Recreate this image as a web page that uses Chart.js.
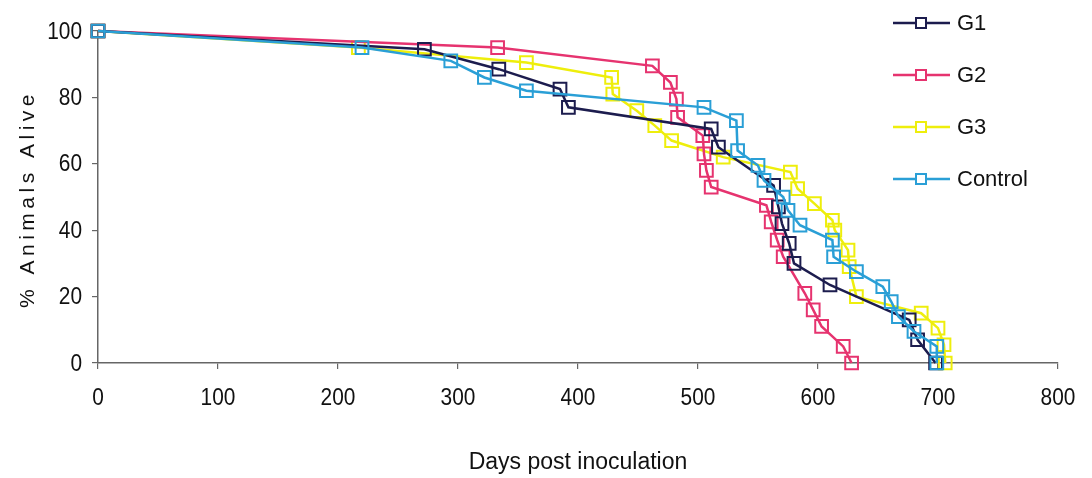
<!DOCTYPE html>
<html>
<head>
<meta charset="utf-8">
<title>Survival</title>
<script src="https://cdn.jsdelivr.net/npm/chart.js@4.4.1/dist/chart.umd.min.js"></script>
<style>
  html, body { margin: 0; padding: 0; background: #fff; }
  #wrap { width: 1092px; height: 478px; }
</style>
</head>
<body>
<div id="wrap"><canvas id="myChart" width="1092" height="478"></canvas></div>
<script>
// survival curves, days post inoculation vs % alive
const g1Days = [0, 272, 334, 385, 392, 511, 517, 563, 567, 570, 576, 580, 610, 676, 683, 698]
const g1Alive = [100, 94.5, 88.5, 82.5, 77, 70.5, 65, 53.5, 47, 42, 36, 30, 23.5, 13, 7, 0]

const g2Days = [0, 333, 462, 477, 482, 483, 504, 505, 507, 511, 557, 561, 566, 571, 589, 596, 603, 621, 628]
const g2Alive = [100, 95, 89.5, 84.5, 79.5, 74, 68.5, 63, 58, 53, 47.5, 42.5, 37, 32, 21, 16, 11, 5, 0]

const g3Days = [0, 217, 357, 428, 429, 449, 464, 478, 521, 577, 583, 597, 612, 614, 625, 626, 632, 686, 700, 705, 706]
const g3Alive = [100, 95, 90.5, 86, 81, 76, 71.5, 67, 62, 57.5, 52.5, 48, 43, 40, 34, 29, 20, 15, 10.5, 5.5, 0]

const ctlDays = [0, 220, 294, 322, 357, 505, 532, 533, 550, 555, 571, 575, 585, 612, 613, 632, 654, 661, 667, 680, 699, 699]
const ctlAlive = [100, 95, 91, 86, 82, 77, 73, 64, 59.5, 55, 50, 46, 41.5, 37, 32, 27.5, 23, 18.5, 14, 9.5, 5, 0]

const xTicks = [0, 100, 200, 300, 400, 500, 600, 700, 800]
const yTicks = [0, 20, 40, 60, 80, 100]

const xTitle = 'Days post inoculation'
const yTitle = '% Animals Alive'

const regular = "'Liberation Sans', Arial, sans-serif"
const squeeze = 0.87   // tick numbers are set a bit condensed

var toPoints = (days, alive) => days.map((d, i) => ({x: d, y: alive[i]}))

var series = (label, color, days, alive, order) => ({
    label: label,
    data: toPoints(days, alive),
    borderColor: color,
    backgroundColor: color,
    borderWidth: 2.5,
    pointStyle: 'rect',
    pointRadius: 9,
    pointHoverRadius: 9,
    pointBorderWidth: 2,
    pointBorderColor: color,
    pointBackgroundColor: 'rgba(0,0,0,0)',
    tension: 0,
    clip: false,
    order: order,
})

// tick numbers, drawn narrow
const narrowTicks = {
    id: 'narrowTicks',
    afterDraw(chart) {
        const {ctx, scales, chartArea} = chart
        ctx.save()
        ctx.font = '24px ' + regular
        ctx.fillStyle = '#111'
        ctx.textBaseline = 'middle'
        xTicks.forEach(v => {
            ctx.save()
            ctx.translate(scales.x.getPixelForValue(v), chartArea.bottom + 35)
            ctx.scale(squeeze, 1)
            ctx.textAlign = 'center'
            ctx.fillText(String(v), 0, 0)
            ctx.restore()
        })
        yTicks.forEach(v => {
            ctx.save()
            ctx.translate(chartArea.left - 16, scales.y.getPixelForValue(v) + 1)
            ctx.scale(squeeze, 1)
            ctx.textAlign = 'right'
            ctx.fillText(String(v), 0, 0)
            ctx.restore()
        })
        ctx.restore()
    }
}

// rotated y title, letter-spaced
const sideTitle = {
    id: 'sideTitle',
    afterDraw(chart) {
        const {ctx, chartArea} = chart
        ctx.save()
        ctx.translate(28, (chartArea.top + chartArea.bottom) / 2 + 2)
        ctx.rotate(-Math.PI / 2)
        ctx.font = '21px ' + regular
        ctx.letterSpacing = '4.5px'
        ctx.textAlign = 'center'
        ctx.textBaseline = 'middle'
        ctx.fillStyle = '#111'
        ctx.fillText(yTitle, 0, 0)
        ctx.restore()
    }
}

// legend in the top right corner
const sideLegend = {
    id: 'sideLegend',
    afterDraw(chart) {
        const ctx = chart.ctx
        chart.data.datasets.forEach((ds, i) => {
            const y = 23 + i * 52
            ctx.save()
            ctx.strokeStyle = ds.borderColor
            ctx.lineWidth = 2.5
            ctx.beginPath()
            ctx.moveTo(893, y)
            ctx.lineTo(950, y)
            ctx.stroke()
            ctx.lineWidth = 2
            ctx.fillStyle = '#fff'
            ctx.fillRect(916, y - 5, 10, 10)
            ctx.strokeRect(916, y - 5, 10, 10)
            ctx.fillStyle = '#111'
            ctx.font = '22px ' + regular
            ctx.textBaseline = 'middle'
            ctx.fillText(ds.label, 957, y + 1)
            ctx.restore()
        })
    }
}

const data = {
    datasets: [
        series('G1', '#1c1c4e', g1Days, g1Alive, 1),
        series('G2', '#e6336f', g2Days, g2Alive, 2),
        series('G3', '#eeee0c', g3Days, g3Alive, 3),
        series('Control', '#2a9fd6', ctlDays, ctlAlive, 0),
    ]
}

const config = {
    type: 'line',
    data: data,
    plugins: [narrowTicks, sideTitle, sideLegend],
    options: {
        responsive: false,
        animation: false,
        devicePixelRatio: 1,
        layout: {padding: {top: 31, right: 34, left: 0, bottom: 0}},
        plugins: {
            legend: {display: false},
            tooltip: {enabled: false},
        },
        scales: {
            x: {
                type: 'linear',
                min: 0,
                max: 800,
                afterBuildTicks: (scale) => { scale.ticks = xTicks.map(v => ({value: v})) },
                afterFit: (scale) => { scale.height = 115 },
                grid: {display: true, drawOnChartArea: false, drawTicks: true, tickLength: 6, color: '#666', lineWidth: 1.2},
                border: {display: true, color: '#666', width: 1.5},
                ticks: {display: false},
                title: {display: true, text: xTitle, color: '#111', padding: {top: 0, bottom: 2}, font: {family: regular, size: 23}},
            },
            y: {
                type: 'linear',
                min: 0,
                max: 100,
                afterBuildTicks: (scale) => { scale.ticks = yTicks.map(v => ({value: v})) },
                afterFit: (scale) => { scale.width = 98 },
                grid: {display: true, drawOnChartArea: false, drawTicks: true, tickLength: 6, color: '#666', lineWidth: 1.2},
                border: {display: true, color: '#666', width: 1.5},
                ticks: {display: false},
            },
        },
    },
}

const myChart = new Chart(document.getElementById('myChart'), config)
</script>
</body>
</html>
